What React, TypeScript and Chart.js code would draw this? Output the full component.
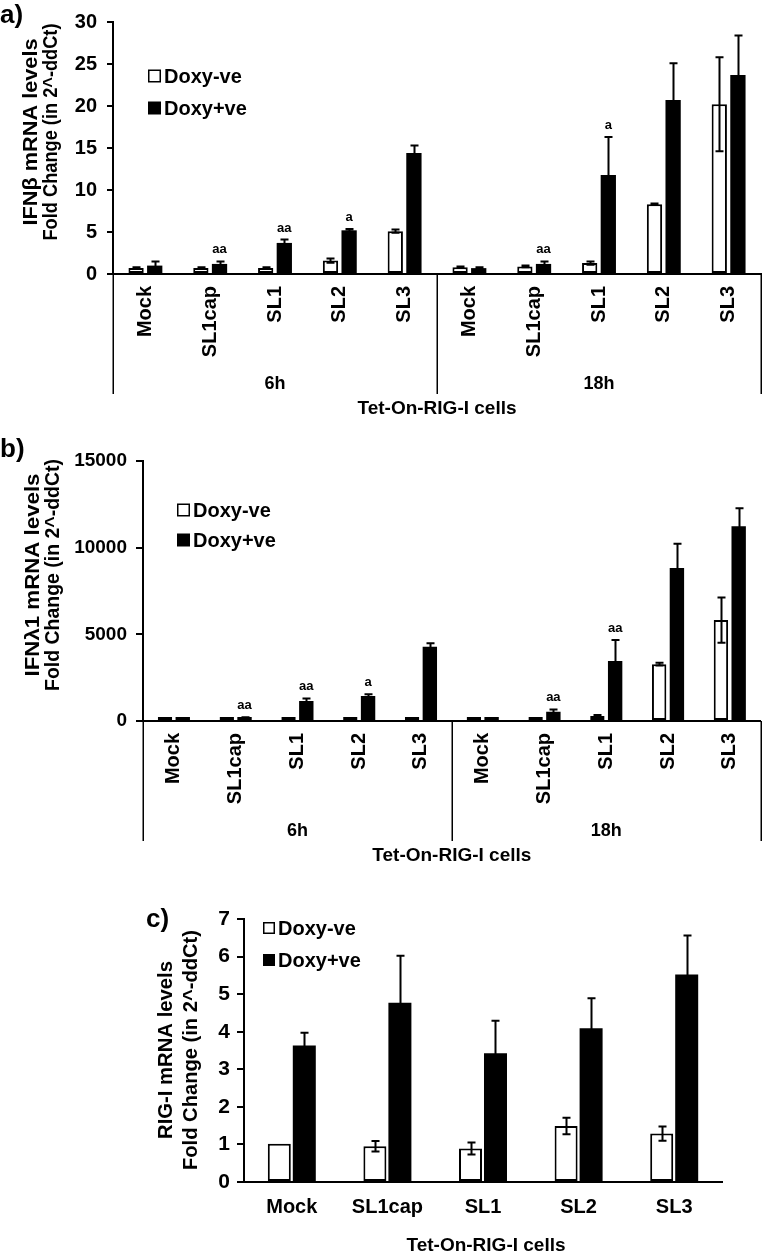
import React, { useEffect, useRef } from 'react';
import { Chart, registerables } from 'chart.js';

Chart.register(...registerables);

// ---------- data ----------
const CATEGORIES = ['Mock', 'SL1cap', 'SL1', 'SL2', 'SL3'];
const TIMEPOINTS = ['6h', '18h'];
const SERIES = ['Doxy-ve', 'Doxy+ve'];
const X_TITLE = 'Tet-On-RIG-I cells';

// a) IFNβ (6h x5, 18h x5)
const IFNB_NEG = [0.7, 0.7, 0.7, 1.6, 5.1, 0.8, 0.9, 1.3, 8.3, 20.2];
const IFNB_NEG_ERR = [0.1, 0.1, 0.1, 0.25, 0.2, 0.1, 0.1, 0.2, 0.1, 5.6];
const IFNB_POS = [1.0, 1.2, 3.7, 5.2, 14.4, 0.7, 1.2, 11.8, 20.7, 23.7];
const IFNB_POS_ERR = [0.5, 0.3, 0.4, 0.15, 0.9, 0.1, 0.3, 4.5, 4.4, 4.7];
const IFNB_SIG = ['', 'aa', 'aa', 'a', '', '', 'aa', 'a', '', ''];

// b) IFNλ1
const IFNL_NEG = [10, 10, 10, 10, 100, 10, 10, 290, 3280, 5820];
const IFNL_NEG_ERR = [0, 0, 0, 0, 20, 0, 0, 50, 80, 1300];
const IFNL_POS = [10, 150, 1150, 1440, 4280, 20, 540, 3460, 8830, 11230];
const IFNL_POS_ERR = [0, 60, 150, 100, 210, 0, 130, 1210, 1390, 1040];
const IFNL_SIG = ['', 'aa', 'aa', 'a', '', '', 'aa', 'aa', '', ''];

// c) RIG-I
const RIG_NEG = [1.02, 0.95, 0.89, 1.49, 1.29];
const RIG_NEG_ERR = [0, 0.14, 0.16, 0.22, 0.19];
const RIG_POS = [3.63, 4.77, 3.43, 4.09, 5.52];
const RIG_POS_ERR = [0.34, 1.25, 0.86, 0.8, 1.04];

const Y_TITLE_A = ['IFNβ mRNA levels', 'Fold Change (in 2^-ddCt)'];
const Y_TITLE_B = ['IFNλ1 mRNA levels', 'Fold Change (in 2^-ddCt)'];
const Y_TITLE_C = ['RIG-I mRNA levels', 'Fold Change (in 2^-ddCt)'];

const FONT = '"Liberation Sans", Arial, Helvetica, sans-serif';

type Spec = {
  letter: string;
  labels: string[];
  neg: number[];
  negErr: number[];
  pos: number[];
  posErr: number[];
  sig: string[] | null;
  yMax: number;
  yStep: number;
  yTitle: string[];
  grouped: boolean;
  // layout
  top: number;
  height: number;
  area: { left: number; right: number; top: number; bottom: number };
  tickFont: number;
  catFont: number;
  rotate: boolean;
  catPad: number;
  tickPad: number;
  tickLen: number;
  catPct: number;
  barPct: number;
  minBar: number;
  yTitleX: [number, number];
  yTitleY: number;
  yTitleLen: [number, number];
  legendX: number;
  legendY: [number, number];
  legendBox: number;
  letterX: number;
  letterY: number;
  xTitleOffset: number;
};

function fitText(ctx: CanvasRenderingContext2D, text: string, x: number, y: number, target?: number) {
  const w = ctx.measureText(text).width;
  ctx.save();
  ctx.translate(x, y);
  if (target && w > 0) ctx.scale(target / w, 1);
  ctx.fillText(text, 0, 0);
  ctx.restore();
}

function makeOverlay(s: Spec) {
  return {
    id: 'overlay',
    afterDatasetsDraw(chart: any) {
      const ctx: CanvasRenderingContext2D = chart.ctx;
      const ys = chart.scales.y;
      ctx.save();
      ctx.strokeStyle = '#000';
      ctx.lineWidth = 2;
      const sets: [number[], number[]][] = [
        [s.neg, s.negErr],
        [s.pos, s.posErr],
      ];
      sets.forEach(([vals, errs], di) => {
        const meta = chart.getDatasetMeta(di);
        meta.data.forEach((el: any, i: number) => {
          const e = errs[i];
          if (!e) return;
          const x = Math.round(el.x) + 0.5;
          const t = ys.getPixelForValue(vals[i] + e);
          const b = ys.getPixelForValue(Math.max(0, vals[i] - e));
          ctx.beginPath();
          ctx.moveTo(x, t);
          ctx.lineTo(x, b);
          ctx.moveTo(x - 4, t);
          ctx.lineTo(x + 4, t);
          ctx.moveTo(x - 4, b);
          ctx.lineTo(x + 4, b);
          ctx.stroke();
        });
      });
      if (s.sig) {
        const meta = chart.getDatasetMeta(1);
        ctx.fillStyle = '#000';
        ctx.font = `bold 13px ${FONT}`;
        ctx.textAlign = 'center';
        ctx.textBaseline = 'alphabetic';
        s.sig.forEach((txt, i) => {
          if (!txt) return;
          const el = meta.data[i];
          const t = ys.getPixelForValue(s.pos[i] + s.posErr[i]);
          ctx.fillText(txt, el.x, t - 8);
        });
      }
      ctx.restore();
    },
    afterDraw(chart: any) {
      const ctx: CanvasRenderingContext2D = chart.ctx;
      const area = chart.chartArea;
      const xs = chart.scales.x;
      ctx.save();
      ctx.fillStyle = '#000';
      ctx.strokeStyle = '#000';

      // panel letter
      ctx.font = `bold 26px ${FONT}`;
      ctx.textAlign = 'left';
      ctx.textBaseline = 'alphabetic';
      ctx.fillText(s.letter, s.letterX, s.letterY);

      // y title (two lines, rotated, x = baseline position)
      ctx.font = `bold 21px ${FONT}`;
      ctx.textAlign = 'center';
      ctx.textBaseline = 'alphabetic';
      s.yTitle.forEach((line, k) => {
        ctx.save();
        ctx.translate(s.yTitleX[k], s.yTitleY);
        ctx.rotate(-Math.PI / 2);
        fitText(ctx, line, 0, 0, s.yTitleLen[k]);
        ctx.restore();
      });

      // legend
      ctx.font = `bold 20px ${FONT}`;
      ctx.textAlign = 'left';
      ctx.textBaseline = 'middle';
      SERIES.forEach((name, k) => {
        const y = s.legendY[k];
        const bx = s.legendX;
        const bs = s.legendBox;
        if (k === 0) {
          ctx.fillStyle = '#fff';
          ctx.fillRect(bx, y - bs / 2, bs, bs);
          ctx.lineWidth = 1.5;
          ctx.strokeRect(bx + 0.75, y - bs / 2 + 0.75, bs - 1.5, bs - 1.5);
        } else {
          ctx.fillStyle = '#000';
          ctx.fillRect(bx, y - bs / 2, bs, bs);
        }
        ctx.fillStyle = '#000';
        ctx.fillText(name, bx + bs + 3, y + 1);
      });

      // grouped axis
      if (s.grouped) {
        const n = CATEGORIES.length;
        const mid = (xs.getPixelForValue(n - 1) + xs.getPixelForValue(n)) / 2;
        const lines = [area.left, mid, area.right];
        ctx.lineWidth = 1.5;
        ctx.beginPath();
        lines.forEach((lx) => {
          const px = Math.round(lx) + 0.25;
          ctx.moveTo(px, area.bottom);
          ctx.lineTo(px, area.bottom + 120);
        });
        ctx.stroke();
        ctx.font = `bold 18px ${FONT}`;
        ctx.textAlign = 'center';
        ctx.textBaseline = 'middle';
        ctx.fillText(TIMEPOINTS[0], (area.left + mid) / 2, area.bottom + 110);
        ctx.fillText(TIMEPOINTS[1], (mid + area.right) / 2, area.bottom + 110);
      }

      // x title
      ctx.font = `bold 19px ${FONT}`;
      ctx.textAlign = 'center';
      ctx.textBaseline = 'middle';
      ctx.fillText(X_TITLE, (area.left + area.right) / 2 + (s.grouped ? 0 : 3), area.bottom + s.xTitleOffset);

      ctx.restore();
    },
  };
}

function buildConfig(s: Spec): any {
  const W = 766;
  return {
    type: 'bar',
    data: {
      labels: s.labels,
      datasets: [
        {
          label: SERIES[0],
          data: s.neg,
          backgroundColor: '#ffffff',
          borderColor: '#000000',
          borderWidth: 2,
          borderSkipped: false,
          categoryPercentage: s.catPct,
          barPercentage: s.barPct,
          minBarLength: s.minBar,
        },
        {
          label: SERIES[1],
          data: s.pos,
          backgroundColor: '#000000',
          borderColor: '#000000',
          borderWidth: 0,
          categoryPercentage: s.catPct,
          barPercentage: s.barPct,
          minBarLength: s.minBar,
        },
      ],
    },
    options: {
      responsive: false,
      animation: false,
      devicePixelRatio: 1,
      layout: {
        padding: { left: 0, right: W - s.area.right, top: s.area.top, bottom: 0 },
      },
      plugins: {
        legend: { display: false },
        tooltip: { enabled: false },
        title: { display: false },
      },
      scales: {
        x: {
          type: 'category',
          offset: true,
          grid: { display: false, drawTicks: false },
          border: { display: true, color: '#000', width: 2 },
          ticks: {
            autoSkip: false,
            maxRotation: s.rotate ? 90 : 0,
            minRotation: s.rotate ? 90 : 0,
            padding: s.catPad,
            color: '#000',
            font: { family: FONT, size: s.catFont, weight: 'bold' },
          },
          afterFit: (scale: any) => {
            scale.height = s.height - s.area.bottom;
          },
        },
        y: {
          min: 0,
          max: s.yMax,
          grid: {
            display: true,
            drawOnChartArea: false,
            drawTicks: true,
            tickLength: s.tickLen,
            color: '#000',
            lineWidth: 2,
          },
          border: { display: true, color: '#000', width: 2 },
          ticks: {
            stepSize: s.yStep,
            padding: s.tickPad,
            color: '#000',
            font: { family: FONT, size: s.tickFont, weight: 'bold' },
            callback: (v: any) => String(v),
          },
          afterFit: (scale: any) => {
            scale.width = s.area.left;
          },
        },
      },
    },
    plugins: [makeOverlay(s)],
  };
}

const LABELS_AB = TIMEPOINTS.flatMap(() => CATEGORIES);

const SPEC_A: Spec = {
  letter: 'a)',
  labels: LABELS_AB,
  neg: IFNB_NEG,
  negErr: IFNB_NEG_ERR,
  pos: IFNB_POS,
  posErr: IFNB_POS_ERR,
  sig: IFNB_SIG,
  yMax: 30,
  yStep: 5,
  yTitle: Y_TITLE_A,
  grouped: true,
  top: 0,
  height: 425,
  area: { left: 113, right: 761, top: 22, bottom: 274 },
  tickFont: 20,
  catFont: 20,
  rotate: true,
  catPad: 12,
  tickPad: 10,
  tickLen: 6,
  catPct: 0.575,
  barPct: 0.82,
  minBar: 0,
  yTitleX: [37, 57],
  yTitleY: 132,
  yTitleLen: [187, 217],
  legendX: 148,
  legendY: [76, 108],
  legendBox: 13,
  letterX: 0,
  letterY: 23,
  xTitleOffset: 135,
};

const SPEC_B: Spec = {
  letter: 'b)',
  labels: LABELS_AB,
  neg: IFNL_NEG,
  negErr: IFNL_NEG_ERR,
  pos: IFNL_POS,
  posErr: IFNL_POS_ERR,
  sig: IFNL_SIG,
  yMax: 15000,
  yStep: 5000,
  yTitle: Y_TITLE_B,
  grouped: true,
  top: 430,
  height: 440,
  area: { left: 143, right: 762, top: 31, bottom: 291 },
  tickFont: 19,
  catFont: 20,
  rotate: true,
  catPad: 12,
  tickPad: 9,
  tickLen: 7,
  catPct: 0.575,
  barPct: 0.81,
  minBar: 4,
  yTitleX: [39, 59],
  yTitleY: 145,
  yTitleLen: [203, 232],
  legendX: 177,
  legendY: [80, 110],
  legendBox: 13,
  letterX: 0,
  letterY: 27,
  xTitleOffset: 135,
};

const SPEC_C: Spec = {
  letter: 'c)',
  labels: CATEGORIES,
  neg: RIG_NEG,
  negErr: RIG_NEG_ERR,
  pos: RIG_POS,
  posErr: RIG_POS_ERR,
  sig: null,
  yMax: 7,
  yStep: 1,
  yTitle: Y_TITLE_C,
  grouped: false,
  top: 880,
  height: 379,
  area: { left: 244, right: 722, top: 39, bottom: 302 },
  tickFont: 21,
  catFont: 20,
  rotate: false,
  catPad: 13,
  tickPad: 7,
  tickLen: 7,
  catPct: 0.523,
  barPct: 0.92,
  minBar: 0,
  yTitleX: [172, 197],
  yTitleY: 170,
  yTitleLen: [178, 240],
  legendX: 263,
  legendY: [48, 80],
  legendBox: 12,
  letterX: 146,
  letterY: 47,
  xTitleOffset: 64,
};

function Panel({ spec }: { spec: Spec }) {
  const ref = useRef<HTMLCanvasElement>(null);
  useEffect(() => {
    if (!ref.current) return;
    const chart = new Chart(ref.current, buildConfig(spec));
    return () => chart.destroy();
  }, [spec]);
  return (
    <canvas
      ref={ref}
      width={766}
      height={spec.height}
      style={{ position: 'absolute', left: 0, top: spec.top, width: 766, height: spec.height, display: 'block' }}
    />
  );
}

export default function App() {
  return (
    <div style={{ position: 'absolute', left: 0, top: 0, width: 766, height: 1259, background: '#fff' }}>
      <Panel spec={SPEC_A} />
      <Panel spec={SPEC_B} />
      <Panel spec={SPEC_C} />
    </div>
  );
}
